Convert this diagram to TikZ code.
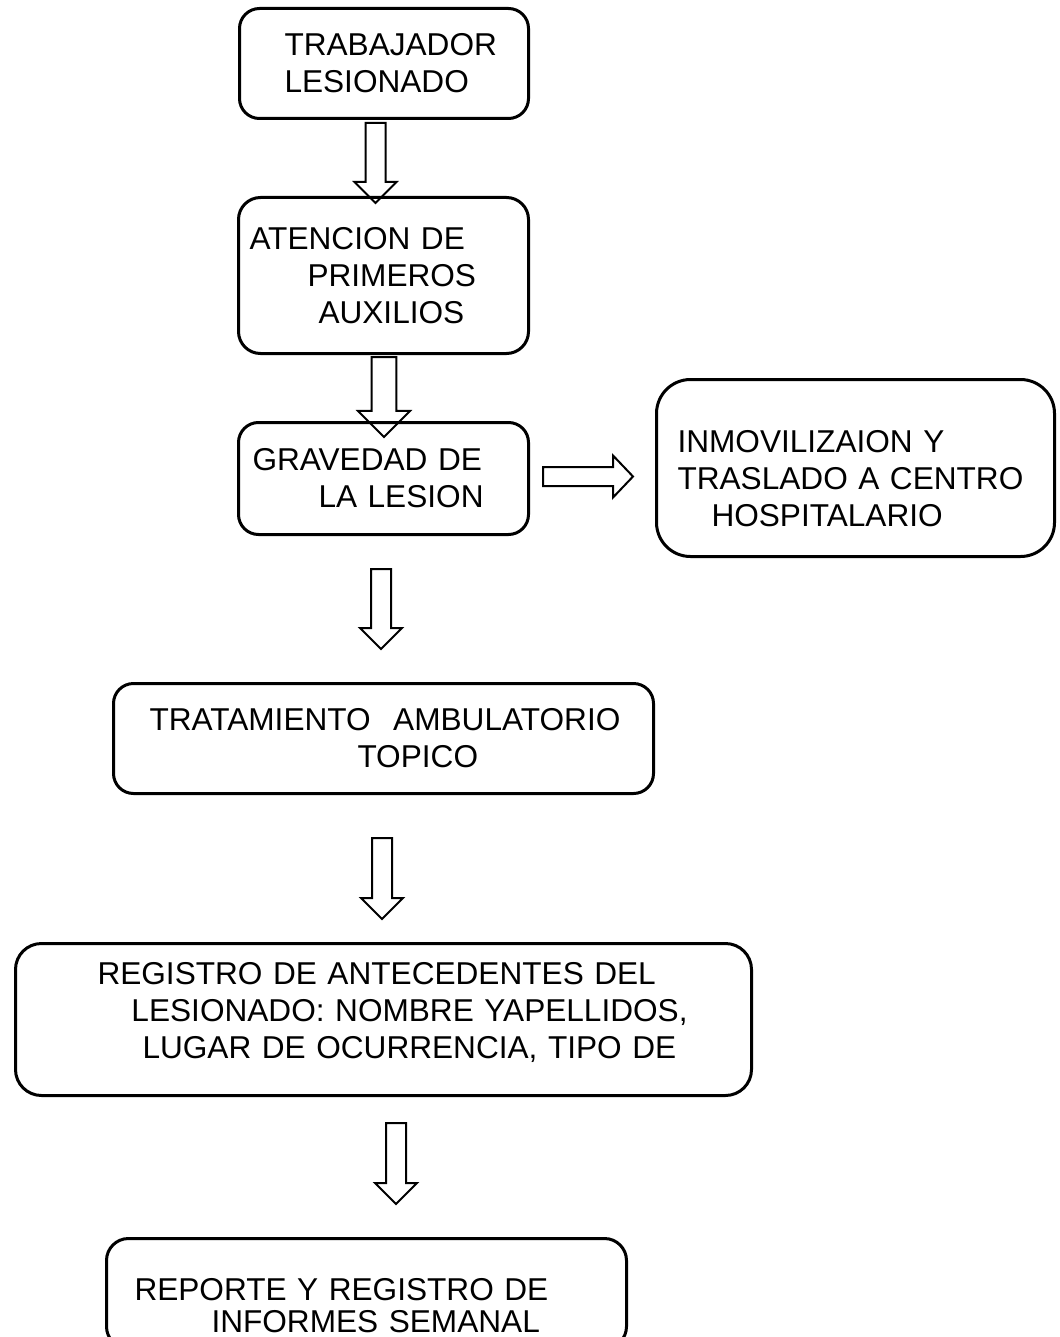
\documentclass[tikz,border=0pt]{standalone}
\usepackage{fontspec}
\setmainfont{Liberation Sans}
\usetikzlibrary{calc}

\tikzset{
  box/.style={draw, line width=1.5pt, rounded corners=10pt, anchor=north west,
    inner xsep=0pt, inner ysep=0pt, align=left,
    font=\fontsize{15.8pt}{18.5pt}\selectfont},
  blockarrow/.style={draw, line width=1pt, line join=miter}
}

% hollow block arrows: [size] start, tip
\newcommand{\blockdown}[3][1]{%
  \draw[blockarrow] let \p1=(#2), \p2=(#3) in
    (\x1-#1*5pt,\y1) -- (\x1+#1*5pt,\y1) -- (\x1+#1*5pt,\y2+#1*10.5pt)
    -- (\x1+#1*10.5pt,\y2+#1*10.5pt) -- (\x2,\y2)
    -- (\x1-#1*10.5pt,\y2+#1*10.5pt) -- (\x1-#1*5pt,\y2+#1*10.5pt) -- cycle;}
\newcommand{\blockright}[2]{%
  \draw[blockarrow] let \p1=(#1), \p2=(#2) in
    (\x1,\y1+4.75pt) -- (\x2-10pt,\y1+4.75pt) -- (\x2-10pt,\y1+10.5pt)
    -- (\x2,\y1) -- (\x2-10pt,\y1-10.5pt) -- (\x2-10pt,\y1-4.75pt)
    -- (\x1,\y1-4.75pt) -- cycle;}

\begin{document}
\begin{tikzpicture}[x=0.5pt, y=-0.5pt]
  \useasboundingbox (0,0) rectangle (1059,1337);

  % boxes
  \node[box, text width=144.5pt, minimum height=55pt] (trabajador) at (238,7)
    {\hspace*{22.5pt}TRABAJADOR\\\hspace*{22.5pt}LESIONADO};
  \node[box, text width=145pt, minimum height=78pt, rounded corners=11pt] (atencion) at (237,196)
    {\hspace*{5.5pt}ATENCION DE\\\hspace*{34.5pt}PRIMEROS\\\hspace*{40pt}AUXILIOS};
  \node[box, text width=145pt, minimum height=56pt] (gravedad) at (237,421)
    {\hspace*{7pt}GRAVEDAD DE\\\hspace*{40pt}LA LESION};
  \node[box, text width=199pt, minimum height=88.5pt, rounded corners=17pt] (traslado) at (655,378)
    {\rule{0pt}{21.6pt}\hspace*{10.5pt}INMOVILIZAION Y\\\hspace*{10.5pt}TRASLADO A CENTRO\\\hspace*{27.5pt}HOSPITALARIO};
  \node[box, text width=270pt, minimum height=55pt] (tratamiento) at (112,682)
    {\hspace*{18pt}TRATAMIENTO\hspace{6pt} AMBULATORIO\\\hspace*{122pt}TOPICO};
  \node[box, text width=368pt, minimum height=76pt, rounded corners=13pt] (registro) at (14,942)
    {\hspace*{41pt}REGISTRO DE ANTECEDENTES DEL\\\hspace*{58pt}LESIONADO: NOMBRE YAPELLIDOS,\\\hspace*{63.5pt}LUGAR DE OCURRENCIA, TIPO DE\rule[-8.8pt]{0pt}{8.8pt}};
  \node[box, text width=260pt, minimum height=55pt, rounded corners=11pt] (reporte) at (105,1237)
    {\rule{0pt}{23.6pt}\hspace*{14pt}REPORTE Y REGISTRO DE\\[-2.5pt]\hspace*{52.5pt}INFORMES SEMANAL};

  % arrow ends
  \coordinate (a1) at (375.5,123);  \coordinate (b1) at (375.5,203);
  \coordinate (a2) at (384,357);    \coordinate (b2) at (384,437);
  \coordinate (a3) at (381,569);    \coordinate (b3) at (381,649);
  \coordinate (a4) at (382,838);    \coordinate (b4) at (382,919);
  \coordinate (a5) at (396,1123);   \coordinate (b5) at (396,1204);
  \coordinate (a6) at (543,476.5);  \coordinate (b6) at (633,476.5);

  % arrows
  \blockdown{a1}{b1}
  \blockdown[1.24]{a2}{b2}
  \blockdown{a3}{b3}
  \blockdown{a4}{b4}
  \blockdown{a5}{b5}
  \blockright{a6}{b6}
\end{tikzpicture}
\end{document}
